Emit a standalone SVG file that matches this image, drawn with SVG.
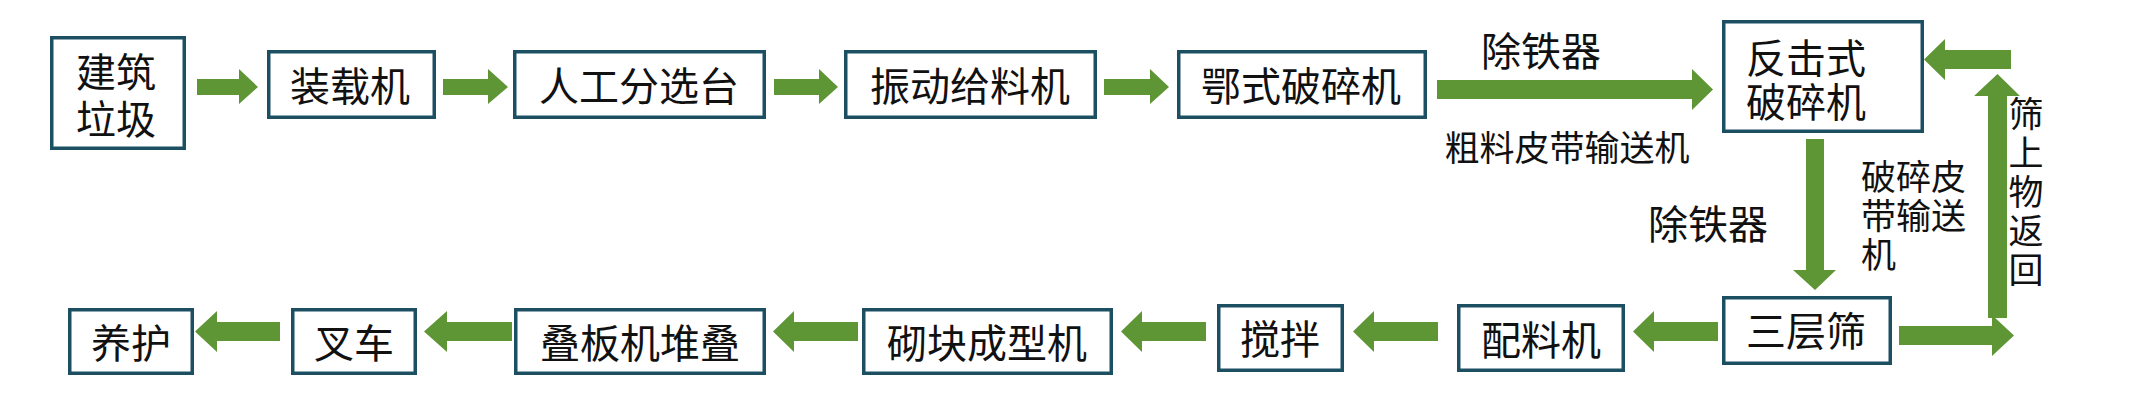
<svg xmlns="http://www.w3.org/2000/svg" width="2129" height="418" viewBox="0 0 2129 418">
<style>
.box{fill:#ffffff;stroke:#1c4f61;stroke-width:3.5}
.arr{fill:#5e9636}
.t{font-family:"Noto Sans CJK SC","Noto Sans CJK TC",sans-serif;font-size:40px;fill:#111;text-anchor:middle;dominant-baseline:central}
.l{font-family:"Noto Sans CJK SC","Noto Sans CJK TC",sans-serif;font-size:35px;fill:#111;dominant-baseline:central}
.v{font-family:"Noto Sans CJK SC","Noto Sans CJK TC",sans-serif;font-size:35px;fill:#111;writing-mode:vertical-rl;letter-spacing:4px}
</style>
<rect width="2129" height="418" fill="#ffffff"/>
<g id="connectors">
<polygon class="arr" points="197,79 239,79 239,69 258,87 239,104 239,95 197,95"/>
<polygon class="arr" points="443,79 488,79 488,69 508,87 488,104 488,95 443,95"/>
<polygon class="arr" points="774,79 819,79 819,69 838,87 819,104 819,95 774,95"/>
<polygon class="arr" points="1104,79 1150,79 1150,69 1169,87 1150,104 1150,95 1104,95"/>
<polygon class="arr" points="1437,80 1692,80 1692,69 1713,89.5 1692,110 1692,99 1437,99"/>
<polygon class="arr" points="2011,50 1945,50 1945,39 1924,59.5 1945,80 1945,69 2011,69"/>
<polygon class="arr" points="1988,318 1988,96 1974,96 1997.5,74 2020,96 2007,96 2007,318"/>
<polygon class="arr" points="1806,139 1824,139 1824,270 1836,270 1815,290 1793,270 1806,270"/>
<polygon class="arr" points="1899,326 1992,326 1992,315 2014,335.5 1992,356 1992,345 1899,345"/>
<polygon class="arr" points="1718,322 1654,322 1654,311 1633,331.5 1654,352 1654,341 1718,341"/>
<polygon class="arr" points="1438,322 1374,322 1374,311 1353,331.5 1374,352 1374,341 1438,341"/>
<polygon class="arr" points="1206,322 1142,322 1142,311 1121,331.5 1142,352 1142,341 1206,341"/>
<polygon class="arr" points="858,322 794,322 794,311 773,331.5 794,352 794,341 858,341"/>
<polygon class="arr" points="512,322 447,322 447,311 424,331.5 447,352 447,341 512,341"/>
<polygon class="arr" points="280,322 217,322 217,311 195,331.5 217,352 217,341 280,341"/>
<text class="t" x="1541" y="49">除铁器</text>
<text class="t" x="1567" y="145" style="font-size:35px">粗料皮带输送机</text>
<text class="t" x="1708" y="222">除铁器</text>
<text class="l"><tspan x="1861" y="174">破碎皮</tspan><tspan x="1861" y="213">带输送</tspan><tspan x="1861" y="252">机</tspan></text>
<text class="v" x="2026" y="96">筛上物返回</text>
</g>
<g id="n1"><rect class="box" x="51.75" y="37.75" width="132.5" height="110.5"/><text class="t"><tspan x="116" y="70">建筑</tspan><tspan x="116" y="117">垃圾</tspan></text></g>
<g id="n2"><rect class="box" x="268.75" y="51.75" width="165.5" height="65.5"/><text class="t" x="350" y="84">装载机</text></g>
<g id="n3"><rect class="box" x="514.75" y="51.75" width="249.5" height="65.5"/><text class="t" x="639" y="84">人工分选台</text></g>
<g id="n4"><rect class="box" x="845.75" y="51.75" width="249.5" height="65.5"/><text class="t" x="970" y="84">振动给料机</text></g>
<g id="n5"><rect class="box" x="1178.75" y="51.75" width="246.5" height="65.5"/><text class="t" x="1301" y="84">鄂式破碎机</text></g>
<g id="n6"><rect class="box" x="1723.75" y="21.75" width="198.5" height="109.5"/><text class="t"><tspan x="1806" y="56">反击式</tspan><tspan x="1806" y="100">破碎机</tspan></text></g>
<g id="n7"><rect class="box" x="1723.75" y="297.75" width="166.5" height="65.5"/><text class="t" x="1806" y="329">三层筛</text></g>
<g id="n8"><rect class="box" x="1458.75" y="305.75" width="164.5" height="64.5"/><text class="t" x="1541" y="338">配料机</text></g>
<g id="n9"><rect class="box" x="1218.75" y="305.75" width="123.5" height="64.5"/><text class="t" x="1280" y="337">搅拌</text></g>
<g id="n10"><rect class="box" x="863.75" y="309.75" width="247.5" height="63.5"/><text class="t" x="987" y="341">砌块成型机</text></g>
<g id="n11"><rect class="box" x="515.75" y="309.75" width="248.5" height="63.5"/><text class="t" x="640" y="341">叠板机堆叠</text></g>
<g id="n12"><rect class="box" x="292.75" y="309.75" width="122.5" height="63.5"/><text class="t" x="354" y="341">叉车</text></g>
<g id="n13"><rect class="box" x="69.75" y="309.75" width="122.5" height="63.5"/><text class="t" x="131" y="341">养护</text></g>
</svg>
